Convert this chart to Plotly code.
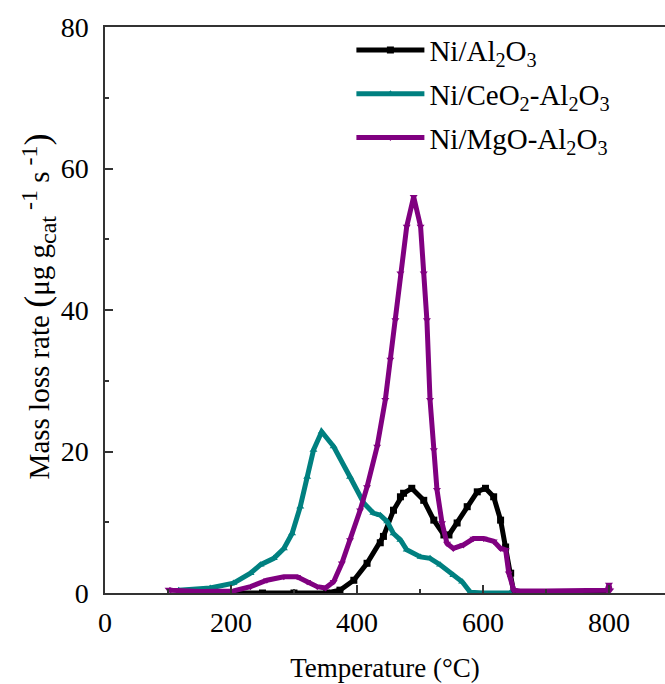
import plotly.graph_objects as go

# Ni/Al2O3
t_al = [170, 250, 300, 352, 373, 395, 416, 437, 442, 458, 469, 474, 487, 506, 522, 538, 546, 559, 575, 591, 604, 617, 628, 636, 644, 649, 700, 790]
v_al = [0.0, 0.0, 0.0, 0.0, 0.4, 1.8, 4.2, 7.1, 8.0, 11.7, 13.6, 14.1, 14.8, 13.1, 10.3, 8.2, 8.2, 9.9, 12.2, 14.3, 14.8, 13.6, 10.3, 6.5, 2.8, 0.0, 0.0, 0.0]

# Ni/CeO2-Al2O3
t_ce = [117, 167, 204, 231, 247, 268, 284, 297, 310, 321, 331, 344, 363, 389, 411, 426, 437, 448, 458, 469, 479, 501, 516, 532, 553, 567, 580, 600, 643]
v_ce = [0.4, 0.7, 1.4, 2.8, 4.0, 4.9, 6.3, 8.4, 12.2, 16.4, 20.2, 22.8, 20.7, 16.4, 12.7, 11.3, 11.0, 10.1, 8.4, 7.5, 6.1, 5.1, 4.9, 4.0, 2.5, 1.6, 0.1, 0.0, 0.0]

# Ni/MgO-Al2O3
t_mg = [101, 104, 151, 204, 231, 257, 284, 305, 321, 337, 350, 363, 376, 389, 405, 416, 432, 445, 453, 461, 469, 479, 490, 501, 506, 511, 516, 522, 527, 535, 543, 553, 569, 585, 601, 617, 628, 636, 641, 649, 659, 700, 750, 797, 800, 802]
v_mg = [0.5, 0.4, 0.2, 0.3, 0.9, 1.8, 2.3, 2.3, 1.6, 0.9, 0.7, 1.6, 4.2, 7.5, 11.7, 15.0, 20.7, 27.3, 33.0, 38.6, 45.2, 51.8, 56.0, 51.8, 45.2, 38.6, 27.3, 20.2, 14.6, 9.9, 7.0, 6.3, 6.8, 7.7, 7.7, 7.3, 6.3, 6.1, 2.8, 0.4, 0.3, 0.3, 0.3, 0.4, 1.2, 0.4]

names = ["Ni/Al<sub>2</sub>O<sub>3</sub>",
         "Ni/CeO<sub>2</sub>-Al<sub>2</sub>O<sub>3</sub>",
         "Ni/MgO-Al<sub>2</sub>O<sub>3</sub>"]
colors = ["#000000", "#008080", "#800080"]
symbols = ["square", "triangle-up", "triangle-down"]

ytitle = ("Mass loss rate "
          "<span style='font-size:36px'>(</span>μg g"
          "<sub><span style='font-size:24px'>cat</span></sub>"
          "<sup><span style='font-size:24px'>\u00a0-1</span></sup>"
          "\u00a0s<sup><span style='font-size:24px'>\u00a0-1</span></sup>"
          "<span style='font-size:36px'>)</span>")

fig = go.Figure()
for i, (t, v) in enumerate([(t_al, v_al), (t_ce, v_ce), (t_mg, v_mg)]):
    fig.add_trace(go.Scatter(
        x=t, y=v, mode="lines+markers", name=names[i], legendgroup=str(i),
        line=dict(color=colors[i], width=5),
        marker=dict(symbol=symbols[i], size=7, color=colors[i]),
    ))

fam = "Liberation Serif"
fig.update_layout(
    width=665, height=684,
    margin=dict(l=105, r=0, t=27, b=91),
    paper_bgcolor="white", plot_bgcolor="white",
    font=dict(family=fam, size=24, color="black"),
    showlegend=True,
    legend=dict(x=0.44, y=1.004, xanchor="left", yanchor="top",
                bgcolor="rgba(0,0,0,0)", tracegroupgap=3, itemwidth=68,
                font=dict(family=fam, size=29, color="black")),
    xaxis=dict(range=[0, 889], tickvals=[0, 200, 400, 600, 800],
               ticks="inside", ticklen=8, tickwidth=1.5, tickcolor="#333",
               minor=dict(tickvals=[100, 300, 500, 700], ticks="inside", ticklen=4, tickwidth=1.5, tickcolor="#333"),
               showline=True, linecolor="#333", linewidth=1.5, mirror=True,
               showgrid=False, zeroline=False, ticklabelstandoff=4,
               tickfont=dict(family=fam, size=28, color="black"),
               title=dict(text="Temperature (°C)", standoff=21,
                          font=dict(family=fam, size=27, color="black"))),
    yaxis=dict(range=[0, 80], tickvals=[0, 20, 40, 60, 80],
               ticks="inside", ticklen=8, tickwidth=1.5, tickcolor="#333",
               minor=dict(tickvals=[10, 30, 50, 70], ticks="inside", ticklen=4, tickwidth=1.5, tickcolor="#333"),
               showline=True, linecolor="#333", linewidth=1.5, mirror=False,
               showgrid=False, zeroline=False, ticklabelstandoff=9,
               tickfont=dict(family=fam, size=28, color="black")),
    annotations=[dict(text=ytitle, textangle=-90, xref="paper", yref="paper",
                      x=-0.119, y=0.507, xanchor="center", yanchor="middle",
                      showarrow=False, font=dict(family=fam, size=29, color="black"))],
)
fig.write_html("out.html")
